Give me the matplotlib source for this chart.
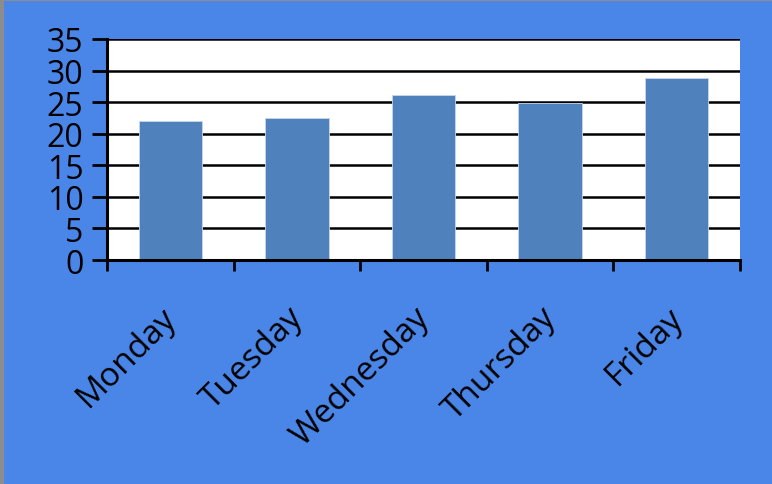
import matplotlib
matplotlib.use("Agg")
import matplotlib.pyplot as plt
import matplotlib.transforms as mtransforms
from matplotlib.patches import Rectangle
import numpy as np

categories = ["Monday", "Tuesday", "Wednesday", "Thursday", "Friday"]
values = [22, 22.5, 26.2, 24.8, 28.8]
yticks = [0, 5, 10, 15, 20, 25, 30, 35]

plt.rcParams['font.family'] = ['Open Sans', 'DejaVu Sans']

W, H = 772, 485
fig = plt.figure(figsize=(W / 100, H / 100), dpi=100)
fig.patch.set_facecolor('#4a86e8')

# gray border on left and top
fig.patches.append(Rectangle((0, 0), 4 / W, 1, transform=fig.transFigure,
                             facecolor='#8c8c8c', edgecolor='none', zorder=0))
fig.patches.append(Rectangle((0, 1 - 2 / H), 1, 2 / H, transform=fig.transFigure,
                             facecolor='#8c8c8c', edgecolor='none', zorder=0))

left, right, top, bottom = 107, 740, 40, 261
ax = fig.add_axes([left / W, 1 - bottom / H, (right - left) / W, (bottom - top) / H])
ax.set_facecolor('white')

x = np.arange(len(categories))
ax.bar(x, values, width=0.5, color='#4f81bd', edgecolor='#c9d7ea',
       linewidth=0.6, zorder=3)

ax.set_xlim(-0.5, len(categories) - 0.5)
ax.set_ylim(0, 35)

ax.set_yticks(yticks)
ax.set_yticklabels([str(v) for v in yticks])
for yv in yticks[1:]:
    ax.axhline(yv, color='black', linewidth=1.8, zorder=2)

# major ticks at category boundaries, labels on minor ticks at centers
ax.set_xticks(np.arange(len(categories) + 1) - 0.5)
ax.set_xticklabels([])
ax.set_xticks(x, minor=True)
ax.set_xticklabels(categories, minor=True, rotation=45, ha='right',
                   fontsize=24)
ax.tick_params(axis='x', which='minor', length=0, pad=29)
ax.tick_params(axis='x', which='major', length=8, width=2, direction='out',
               color='black')
ax.tick_params(axis='y', length=11, width=2, direction='out', color='black',
               labelsize=23, pad=6)
offset = mtransforms.ScaledTranslation(13 / 100, 0, fig.dpi_scale_trans)
for lbl in ax.get_xticklabels(minor=True):
    lbl.set_transform(lbl.get_transform() + offset)

for s in ['top', 'right']:
    ax.spines[s].set_visible(False)
ax.spines['left'].set_linewidth(2.2)
ax.spines['bottom'].set_linewidth(2.2)
ax.spines['left'].set_zorder(4)
ax.spines['bottom'].set_zorder(4)

fig.savefig('out.png', dpi=100, facecolor=fig.get_facecolor())
